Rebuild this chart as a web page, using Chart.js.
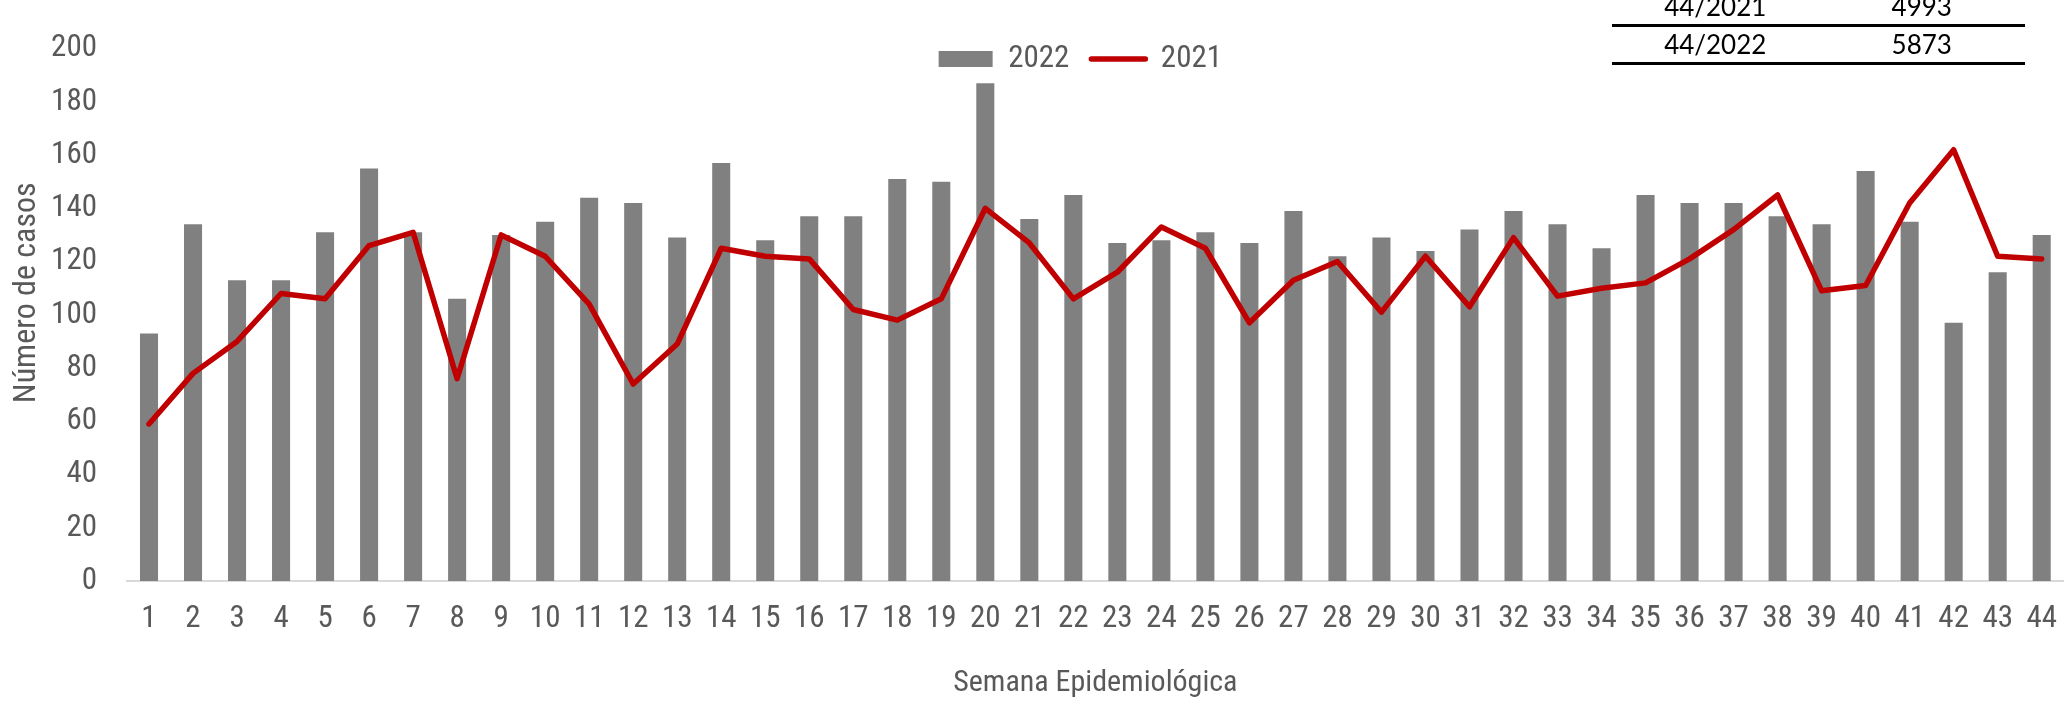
<!DOCTYPE html>
<html>
<head>
<meta charset="utf-8">
<script src="https://cdn.jsdelivr.net/npm/chart.js@4.4.0/dist/chart.umd.min.js"></script>
<style>
  html, body { margin: 0; padding: 0; background: #fff; overflow: hidden; }
  #wrap { position: relative; width: 2069px; height: 704px; overflow: hidden; }
  #grafico { position: absolute; left: 0; top: 0; }
  .tabla { position: absolute; left: 1612px; top: -11px; width: 413px;
           font-family: Lato, "Liberation Sans", sans-serif; font-size: 26px; color: #000; }
  .fila { display: flex; height: 35px; line-height: 35px; border-bottom: 3px solid #000; }
  .fila div { flex: 1; text-align: center; }
</style>
</head>
<body>
<div id="wrap">
  <canvas id="grafico" width="2077" height="704"></canvas>
  <div class="tabla" id="tabla"></div>
</div>
<script>
const semanas = ["1", "2", "3", "4", "5", "6", "7", "8", "9", "10", "11",
  "12", "13", "14", "15", "16", "17", "18", "19", "20", "21", "22",
  "23", "24", "25", "26", "27", "28", "29", "30", "31", "32", "33",
  "34", "35", "36", "37", "38", "39", "40", "41", "42", "43", "44"];

const casos2022 = [93, 134, 113, 113, 131, 155, 131, 106, 130, 135, 144,
  142, 129, 157, 128, 137, 137, 151, 150, 187, 136, 145,
  127, 128, 131, 127, 139, 122, 129, 124, 132, 139, 134,
  125, 145, 142, 142, 137, 134, 154, 135, 97, 116, 130];

const casos2021 = [59, 78, 90, 108, 106, 126, 131, 76, 130, 122, 104,
  74, 89, 125, 122, 121, 102, 98, 106, 140, 127, 106,
  116, 133, 125, 97, 113, 120, 101, 122, 103, 129, 107,
  110, 112, 121, 132, 145, 109, 111, 142, 162, 122, 121];

const yTicks = [0, 20, 40, 60, 80, 100, 120, 140, 160, 180, 200];

const resumenSemana = ["44/2021", "44/2022"];
const resumenTotal = [4993, 5873];

/* ========= TABLA ========= */

const tabla = document.getElementById("tabla");
resumenSemana.forEach((s, i) => {
  const fila = document.createElement("div");
  fila.className = "fila";
  fila.innerHTML = `<div>${s}</div><div>${resumenTotal[i]}</div>`;
  tabla.appendChild(fila);
});

/* ========= GRAFICO ========= */

const fuente = '"Liberation Sans Narrow", "Arial Narrow", "Roboto Condensed", "DejaVu Sans Condensed", sans-serif';
const gris = "#808080";
const rojo = "#C00000";
const texto = "#595959";

// leyenda dentro del area del grafico, en una fila, como en el original
const moverLeyenda = {
  id: "moverLeyenda",
  afterInit(chart) {
    chart.legend.isHorizontal = () => true;
  },
  afterLayout(chart) {
    const lg = chart.legend;
    lg.left += 112; lg.right += 112;
    lg.top -= 27; lg.bottom -= 27;
  }
};

new Chart(document.getElementById("grafico"), {
  type: "bar",
  data: {
    labels: semanas,
    datasets: [
      {
        type: "line",
        label: "2021",
        data: casos2021,
        borderColor: rojo,
        backgroundColor: rojo,
        borderWidth: 5.5,
        pointRadius: 0,
        tension: 0,
        borderJoinStyle: "round",
        borderCapStyle: "round",
        order: 0
      },
      {
        label: "2022",
        data: casos2022,
        backgroundColor: gris,
        borderWidth: 0,
        categoryPercentage: 1,
        barPercentage: 0.41,
        order: 1
      }
    ]
  },
  options: {
    responsive: false,
    animation: false,
    layout: { padding: { top: 33, left: 0, right: 0, bottom: 0 } },
    plugins: {
      tooltip: { enabled: false },
      legend: {
        position: "chartArea",
        align: "center",
        labels: {
          color: texto,
          font: { family: fuente, size: 31 },
          usePointStyle: true,
          pointStyleWidth: 54,
          boxHeight: 16,
          padding: 22,
          generateLabels: () => [
            { text: "2022", fillStyle: gris, strokeStyle: gris, lineWidth: 0,
              pointStyle: "rect", datasetIndex: 1, fontColor: texto },
            { text: "2021", fillStyle: rojo, strokeStyle: rojo, lineWidth: 5.5,
              lineCap: "round", pointStyle: "line", datasetIndex: 0, fontColor: texto }
          ]
        }
      }
    },
    scales: {
      x: {
        grid: { display: false, drawTicks: false },
        border: { color: "#d9d9d9", width: 2 },
        ticks: {
          color: texto,
          font: { family: fuente, size: 31 },
          padding: 20,
          maxRotation: 0,
          autoSkip: false
        },
        title: {
          display: true,
          text: "Semana Epidemiológica",
          color: texto,
          font: { family: fuente, size: 30 },
          padding: { top: 0, bottom: 3 }
        },
        afterFit: s => { s.height = 123; }
      },
      y: {
        min: 0,
        max: 200,
        grid: { display: false, drawTicks: false },
        border: { display: false },
        afterBuildTicks: s => { s.ticks = yTicks.map(v => ({ value: v })); },
        ticks: {
          color: texto,
          font: { family: fuente, size: 31 },
          padding: 30
        },
        title: {
          display: true,
          text: "\u00a0\u00a0\u00a0\u00a0\u00a0\u00a0Número de casos",
          color: texto,
          font: { family: fuente, size: 32 },
          padding: { top: 8, bottom: 0 }
        },
        afterFit: s => { s.width = 127; }
      }
    }
  },
  plugins: [moverLeyenda]
});
</script>
</body>
</html>
